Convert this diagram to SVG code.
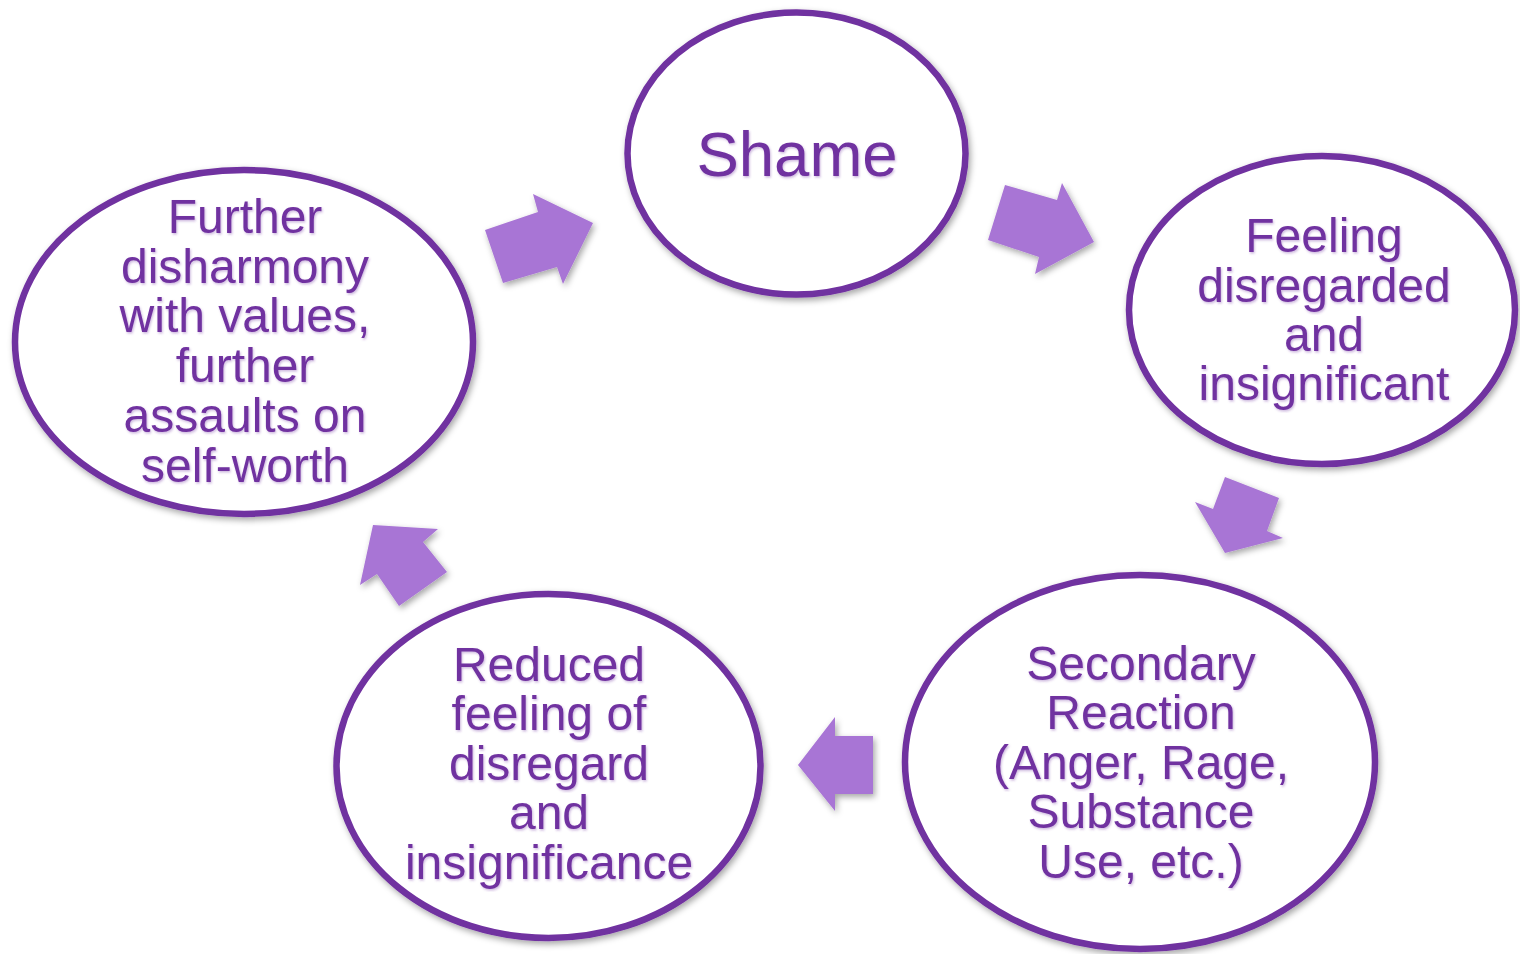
<svg xmlns="http://www.w3.org/2000/svg" width="1520" height="954" viewBox="0 0 1520 954">
<defs>
<filter id="sh" x="-10%" y="-10%" width="120%" height="120%">
<feDropShadow dx="2" dy="3" stdDeviation="3" flood-color="#000" flood-opacity="0.35"/>
</filter>
<filter id="tsh" x="-5%" y="-5%" width="110%" height="110%">
<feDropShadow dx="1" dy="1.5" stdDeviation="1" flood-color="#7030A0" flood-opacity="0.35"/>
</filter>
</defs>
<style>
.node ellipse{fill:#fff;stroke:#7030A0;stroke-width:6.5;filter:url(#sh)}
.node text{fill:#7030A0;font-family:"Liberation Sans",Arial,sans-serif;font-size:48px;text-anchor:middle;filter:url(#tsh)}
.arrow{fill:#A874D5;filter:url(#sh)}
</style>
<rect width="1520" height="954" fill="#fff"/>
<g id="connectors">
<polygon class="arrow" points="485,230 538,212 533,194 593,223 563,284 557,267 503,283"/>
<polygon class="arrow" points="1005,185 1057,200 1062,183 1094,242 1035,274 1039,257 988,240"/>
<polygon class="arrow" points="1195,502 1213,509 1225,477 1279,498 1267,531 1283,538 1225,553"/>
<polygon class="arrow" points="798,765 835,717 835,736 873,736 873,794 835,794 835,811"/>
<polygon class="arrow" points="373,525 438,529 423,542 447,572 399,606 377,574 360,585"/>
</g>
<g id="node-shame" class="node">
<ellipse cx="796.5" cy="153.5" rx="169" ry="141"/>
<text x="797" y="176" style="font-size:63.5px">Shame</text>
</g>
<g id="node-feeling" class="node">
<ellipse cx="1322" cy="310" rx="193" ry="154"/>
<text x="1324" y="252">Feeling</text>
<text x="1324" y="302">disregarded</text>
<text x="1324" y="351">and</text>
<text x="1324" y="400">insignificant</text>
</g>
<g id="node-secondary" class="node">
<ellipse cx="1140" cy="762" rx="235" ry="187"/>
<text x="1141" y="680">Secondary</text>
<text x="1141" y="729">Reaction</text>
<text x="1141" y="779">(Anger, Rage,</text>
<text x="1141" y="828">Substance</text>
<text x="1141" y="878">Use, etc.)</text>
</g>
<g id="node-reduced" class="node">
<ellipse cx="548.5" cy="766" rx="212" ry="172"/>
<text x="549" y="681">Reduced</text>
<text x="549" y="730">feeling of</text>
<text x="549" y="780">disregard</text>
<text x="549" y="829">and</text>
<text x="549" y="879">insignificance</text>
</g>
<g id="node-further" class="node">
<ellipse cx="244" cy="342" rx="229" ry="172"/>
<text x="245" y="233">Further</text>
<text x="245" y="283">disharmony</text>
<text x="245" y="332">with values,</text>
<text x="245" y="382">further</text>
<text x="245" y="432">assaults on</text>
<text x="245" y="482">self-worth</text>
</g>
</svg>
